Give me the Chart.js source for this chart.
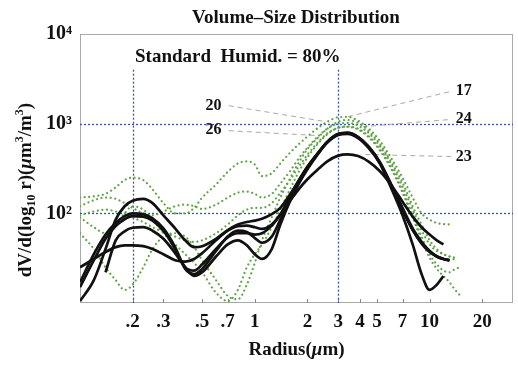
<!DOCTYPE html>
<html>
<head>
<meta charset="utf-8">
<script src="https://cdn.jsdelivr.net/npm/chart.js@4.4.1/dist/chart.umd.min.js"></script>
<style>
  html, body { margin: 0; padding: 0; background: #fff; }
  #wrap { width: 518px; height: 365px; position: relative; }
</style>
</head>
<body>
<div id="wrap"><canvas id="chart"></canvas></div>
<script>
// radius bins (um)
const radius = [0.10, 0.12, 0.14, 0.16, 0.18, 0.20, 0.23, 0.26, 0.30, 0.35, 0.40, 0.45, 0.50, 0.60, 0.70, 0.80, 0.90, 1.0, 1.1, 1.25,
                1.4, 1.6, 1.8, 2.0, 2.3, 2.6, 3.0, 3.4, 3.9, 4.5, 5.2, 6.0, 7.0, 8.0, 9.0, 10, 11, 12, 13, 14, 15];

// black curves (labelled runs)
const run20 = [10.5, 18, 40, 85, 120, 138, 145, 130, 95, 68, 50, 42, 43, 52, 65, 75, 80, 83, 87, 98,
               115, 165, 235, 330, 470, 620, 760, 785, 705, 545, 370, 215, 115, 68, 48, 38, 33, 31, 30, null, null];
const run17 = [17, 35, 58, 78, 93, 100, 98, 88, 68, 42, 24, 21, 24, 38, 55, 64, 62, 53, 47, 55,
               85, 150, 230, 320, 470, 630, 770, 790, 710, 540, 360, 195, 95, 45, 21, 14, 16, 20, null, null, null];
const run24 = [null, null, 22, 50, 63, 69, 70, 64, 52, 36, 25, 20, 22, 33, 45, 50, 44, 35, 31, 40,
               75, 140, 220, 310, 460, 620, 760, 790, 710, 550, 370, 210, 110, 65, 46, 37, 33, 31, 30, null, null];
const run26 = [25, 31, 37, 42, 44, 44, 43, 40, 35, 30, 29, 31, 36, 50, 64, 72, 73, 70, 67, 75,
               97, 160, 240, 330, 470, 620, 750, 770, 690, 530, 360, 205, 110, 66, 47, 38, 33, 31, 30, null, null];
const run23 = [15, 30, 52, 72, 86, 93, 92, 83, 64, 40, 25, 23, 27, 40, 54, 60, 60, 58, 60, 73,
               97, 140, 190, 240, 310, 380, 440, 455, 435, 375, 295, 210, 135, 92, 70, 58, 50, 45, null, null, null];

// green dotted curves (other runs)
const green1 = [150, 155, 165, 195, 235, 250, 235, 185, 130, 100, 100, 115, 150, 210, 290, 360, 380, 350, 260, 280,
                360, 480, 600, 720, 900, 1050, 1180, 1190, 1080, 880, 640, 420, 250, 150, 100, 85, 78, 76, 75, null, null];
const green2 = [120, 140, 150, 145, 130, 115, 100, 95, 105, 120, 125, 120, 112, 125, 150, 170, 175, 165, 150, 165,
                215, 300, 420, 540, 720, 880, 1000, 1020, 950, 780, 560, 360, 200, 110, 65, 45, 38, 35, 33, 30, null];
const green3 = [90, 70, 60, 75, 100, 120, 110, 85, 60, 45, 35, 28, 22, 13, 10.5, 14, 25, 35, 45, 70,
                110, 190, 300, 420, 600, 760, 900, 920, 860, 700, 500, 320, 170, 90, 50, 32, 24, 20, 17, 14, 12];
const green4 = [60, 40, 25, 18, 14, 16, 25, 40, 55, 60, 55, 42, 30, 18, 12, 11, 16, 28, 50, 90,
                150, 250, 380, 520, 700, 880, 1050, 1100, 1020, 820, 590, 380, 220, 120, 75, 50, 40, 35, 33, 32, null];
const green5 = [95, 105, 110, 105, 100, 90, 80, 70, 62, 55, 50, 48, 50, 60, 75, 95, 110, 115, 115, 130,
                170, 240, 340, 450, 620, 780, 900, 930, 880, 720, 520, 330, 180, 95, 55, 35, 27, 23, 22, 24, 25];

// axis ticks
const xTickValues = [0.2, 0.3, 0.5, 0.7, 1, 2, 3, 4, 5, 7, 10, 20];
const yTickValues = [100, 1000, 10000];
const yTickLabels = ['10\u00B2', '10\u00B3', '10\u2074'];

// blue dotted reference lines
const refRadii = [0.2, 3];
const refValues = [100, 1000];
const refTop = 4000;

// run labels: text position (radius, value), leader from -> to
const runLabels = ['20', '26', '17', '24', '23'];
const labelR = [0.58, 0.58, 15.7, 15.7, 15.7];
const labelV = [1585, 858, 2328, 1137, 430];
const leaderFromR = [0.71, 0.71, 12.9, 12.7, 13.3];
const leaderFromV = [1585, 835, 2268, 1107, 430];
const leaderToR = [2.55, 2.32, 3.23, 4.15, 4.04];
const leaderToV = [1052, 736, 1166, 926, 453];

const SERIF = "'Liberation Serif', 'Times New Roman', serif";
const B19 = `bold 19px ${SERIF}`;
const BI19 = `italic bold 19px ${SERIF}`;
const B12 = `bold 12px ${SERIF}`;

function points(vals) {
    return radius.map((r, i) => ({ x: r, y: vals[i] })).filter(p => p.y != null);
}

function drawRich(ctx, segs, cx, baseY) {
    let w = 0;
    segs.forEach(s => { ctx.font = s.f; s.w = ctx.measureText(s.t).width; w += s.w; });
    let xx = cx - w / 2;
    segs.forEach(s => { ctx.font = s.f; ctx.fillText(s.t, xx, baseY + (s.dy || 0)); xx += s.w; });
}

const decor = {
    id: 'decor',
    beforeDatasetsDraw(chart) {
        const { ctx, chartArea: a, scales: { x, y } } = chart;
        const seg = (x1, y1, x2, y2) => { ctx.beginPath(); ctx.moveTo(x1, y1); ctx.lineTo(x2, y2); ctx.stroke(); };
        ctx.save();
        // frame
        ctx.strokeStyle = '#a9a9a9';
        ctx.lineWidth = 1;
        ctx.strokeRect(a.left + 0.5, a.top + 0.5, a.width - 1, a.height - 1);
        // small inward ticks on bottom
        ctx.strokeStyle = '#8a8a8a';
        xTickValues.forEach(v => {
            const px = Math.round(x.getPixelForValue(v)) + 0.5;
            seg(px, a.bottom, px, a.bottom - 4);
        });
        // blue dotted guides
        ctx.strokeStyle = '#3a52b4';
        ctx.lineWidth = 1.3;
        ctx.setLineDash([2, 2]);
        refValues.forEach(v => {
            const py = Math.round(y.getPixelForValue(v)) + 0.5;
            seg(a.left, py, a.right, py);
        });
        refRadii.forEach(r => {
            const px = Math.round(x.getPixelForValue(r)) + 0.5;
            seg(px, y.getPixelForValue(refTop), px, a.bottom);
        });
        // leader lines
        ctx.strokeStyle = '#a8a8a8';
        ctx.lineWidth = 1;
        ctx.setLineDash([5, 4]);
        runLabels.forEach((_, i) => {
            seg(x.getPixelForValue(leaderFromR[i]), y.getPixelForValue(leaderFromV[i]),
                x.getPixelForValue(leaderToR[i]), y.getPixelForValue(leaderToV[i]));
        });
        ctx.restore();
    },
    afterDraw(chart) {
        const { ctx, chartArea: a, scales: { x, y } } = chart;
        ctx.save();
        ctx.fillStyle = '#111';
        ctx.textBaseline = 'alphabetic';
        // title
        drawRich(ctx, [{ t: 'Volume\u2013Size Distribution', f: B19 }], 296, 23);
        // condition note
        ctx.font = B19;
        ctx.textAlign = 'left';
        ctx.fillText('Standard  Humid. = 80%', 135, 62);
        // run numbers
        ctx.font = `bold 16px ${SERIF}`;
        ctx.textAlign = 'center';
        ctx.textBaseline = 'middle';
        runLabels.forEach((t, i) => {
            ctx.fillText(t, x.getPixelForValue(labelR[i]), y.getPixelForValue(labelV[i]));
        });
        // x axis title
        ctx.textAlign = 'left';
        ctx.textBaseline = 'alphabetic';
        drawRich(ctx, [{ t: 'Radius(', f: B19 }, { t: '\u03BC', f: BI19 }, { t: 'm)', f: B19 }],
                 (a.left + a.right) / 2, 355);
        // y axis title
        ctx.translate(31, 190);
        ctx.rotate(-Math.PI / 2);
        drawRich(ctx, [
            { t: 'dV/d(log', f: B19 }, { t: '10', f: B12, dy: 4 }, { t: ' r)(', f: B19 },
            { t: '\u03BC', f: BI19 }, { t: 'm', f: B19 }, { t: '3', f: B12, dy: -8 },
            { t: '/m', f: B19 }, { t: '3', f: B12, dy: -8 }, { t: ')', f: B19 }
        ], 0, 0);
        ctx.restore();
    }
};

const blackRuns = [run20, run17, run24, run26, run23];
const greenRuns = [green1, green2, green3, green4, green5];

const datasets = [
    ...blackRuns.map(v => ({
        data: points(v),
        borderColor: '#111',
        borderWidth: 2.7,
        pointRadius: 0,
        cubicInterpolationMode: 'monotone',
        order: 0,
    })),
    ...greenRuns.map(v => ({
        data: points(v),
        borderColor: '#62a348',
        borderWidth: 2.2,
        borderDash: [0.01, 4.6],
        borderCapStyle: 'round',
        pointRadius: 0,
        cubicInterpolationMode: 'monotone',
        order: 1,
    })),
];

new Chart(document.getElementById('chart').getContext('2d'), {
    type: 'line',
    data: { datasets },
    options: {
        responsive: true,
        maintainAspectRatio: false,
        animation: false,
        layout: { padding: { top: 34, right: 5, left: 0, bottom: 0 } },
        plugins: { legend: { display: false }, tooltip: { enabled: false } },
        scales: {
            x: {
                type: 'logarithmic',
                min: 0.1,
                max: 30,
                afterFit: s => { s.height = 62; },
                afterBuildTicks: s => { s.ticks = xTickValues.map(v => ({ value: v })); },
                ticks: {
                    autoSkip: false,
                    maxRotation: 0,
                    padding: 8,
                    color: '#111',
                    font: { family: SERIF, size: 19, weight: 'bold' },
                    callback: v => (v < 1 ? '.' + Math.round(v * 10) : String(v)),
                },
                grid: { display: false, drawTicks: false },
                border: { display: false },
            },
            y: {
                type: 'logarithmic',
                min: 10,
                max: 10000,
                afterFit: s => { s.width = 80; },
                afterBuildTicks: s => { s.ticks = yTickValues.map(v => ({ value: v })); },
                ticks: {
                    padding: 8,
                    color: '#111',
                    font: { family: SERIF, size: 20, weight: 'bold' },
                    callback: v => yTickLabels[yTickValues.indexOf(v)] || '',
                },
                grid: { display: false, drawTicks: false },
                border: { display: false },
            },
        },
    },
    plugins: [decor],
});
</script>
</body>
</html>
